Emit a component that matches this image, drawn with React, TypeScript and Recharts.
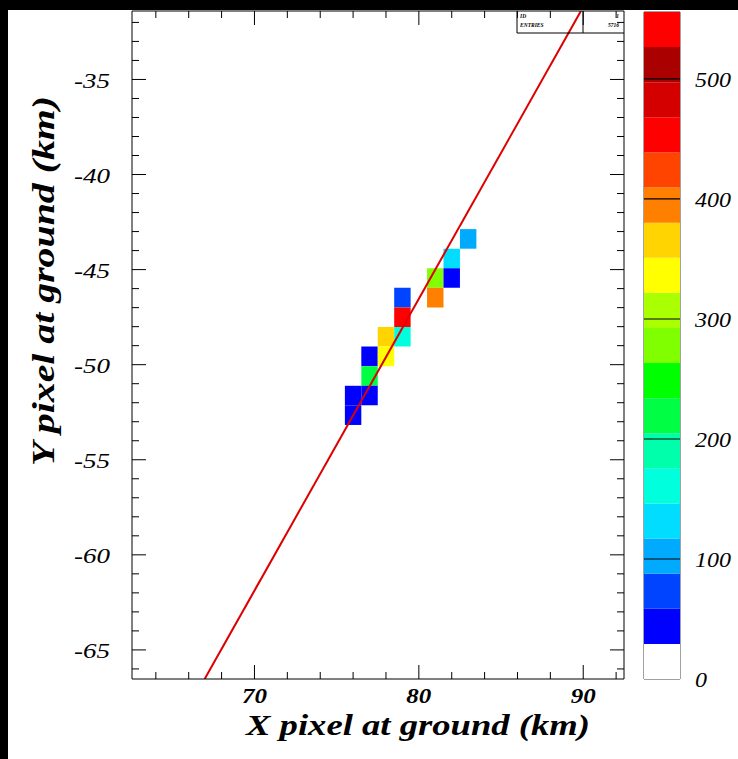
import React from 'react';
import { ComposedChart, BarChart, Bar, Line, XAxis, YAxis, ReferenceArea } from 'recharts';

if (typeof document !== 'undefined') {
  document.body.style.margin = '0';
  document.body.style.background = '#000';
}

// ---- data ----
const xDomain = [62.55, 92.48];
const yDomain = [-66.53, -31.4];
const xTicks = [64, 66, 68, 70, 72, 74, 76, 78, 80, 82, 84, 86, 88, 90, 92];
const xMajorTicks = [70, 80, 90];
const yTicks = [-66, -65, -64, -63, -62, -61, -60, -59, -58, -57, -56, -55, -54, -53, -52, -51, -50, -49, -48, -47, -46, -45, -44, -43, -42, -41, -40, -39, -38, -37, -36, -35, -34, -33, -32];
const yMajorTicks = [-65, -60, -55, -50, -45, -40, -35];

const binWidth = 1;
const binHeight = 1.03;
const cellX = [83, 82, 81, 82, 81, 79, 79, 78, 79, 77, 78, 77, 76, 77, 76];
const cellY = [-43.385, -44.415, -45.445, -45.445, -46.475, -46.475, -47.505, -48.535, -48.535, -49.565, -49.565, -50.595, -51.625, -51.625, -52.655];
const cellCount = [100, 130, 280, 45, 395, 75, 455, 365, 160, 45, 335, 220, 45, 45, 45];

const fitLine = [
  { x: 66.97, y: -66.53 },
  { x: 89.86, y: -31.4 },
];

const zMax = 555.8;
const zTicks = [0, 100, 200, 300, 400, 500];
const zColors = [
  '#ffffff', '#0000ff', '#0044ff', '#00aaff', '#00ddff', '#00ffdd', '#00ffaa', '#00ff44',
  '#00ff00', '#80ff00', '#aaff00', '#ffff00', '#ffd400', '#ff7f00', '#ff4400', '#ff0000',
  '#d40000', '#aa0000', '#ff0000',
];

const statsLabels = ['ID', 'ENTRIES'];
const statsValues = ['1', '5716'];

const xTitle = 'X pixel at ground (km)';
const yTitle = 'Y pixel at ground (km)';

// ---- helpers ----
const FONT = '"Liberation Serif", "Times New Roman", serif';
const nBands = zColors.length;
const bandStep = zMax / nBands;
const colorFor = (v: number) => zColors[Math.min(nBands - 1, Math.max(0, Math.floor(v / bandStep)))];
const cells = cellX.map((x, i) => ({ x, y: cellY[i], v: cellCount[i] }));
const bandRow: Record<string, any> = { name: 'z' };
zColors.forEach((_, i) => { bandRow[`b${i}`] = bandStep; });
const bandData = [bandRow];

const MAJOR = 14;
const MINOR = 7;

const BottomTick = (props: any) => {
  const { x, y, payload } = props;
  const major = xMajorTicks.includes(payload.value);
  return (
    <g>
      <line x1={x} y1={y} x2={x} y2={y - (major ? MAJOR : MINOR)} stroke="#000" strokeWidth={1} />
      {major && (
        <text x={x} y={y + 24} textAnchor="middle" fontFamily={FONT} fontStyle="italic" fontWeight="bold"
          fontSize={21} textLength={25} lengthAdjust="spacingAndGlyphs" fill="#000">
          {payload.value}
        </text>
      )}
    </g>
  );
};

const TopTick = (props: any) => {
  const { x, y, payload } = props;
  const major = xMajorTicks.includes(payload.value);
  return <line x1={x} y1={y} x2={x} y2={y + (major ? MAJOR : MINOR)} stroke="#000" strokeWidth={1} />;
};

const LeftTick = (props: any) => {
  const { x, y, payload } = props;
  const major = yMajorTicks.includes(payload.value);
  return (
    <g>
      <line x1={x} y1={y} x2={x + (major ? MAJOR : MINOR)} y2={y} stroke="#000" strokeWidth={1} />
      {major && (
        <text x={x - 22} y={y + 8.5} textAnchor="end" fontFamily={FONT} fontStyle="italic"
          fontSize={21} textLength={36} lengthAdjust="spacingAndGlyphs" fill="#000">
          {String(payload.value)}
        </text>
      )}
    </g>
  );
};

const RightTick = (props: any) => {
  const { x, y, payload } = props;
  const major = yMajorTicks.includes(payload.value);
  return <line x1={x} y1={y} x2={x - (major ? MAJOR : MINOR)} y2={y} stroke="#000" strokeWidth={1} />;
};

const ZTick = (props: any) => {
  const { x, y, payload } = props;
  const s = String(payload.value);
  return (
    <g>
      {payload.value > 0 && <line x1={x - 36} y1={y} x2={x} y2={y} stroke="#000" strokeWidth={1.2} />}
      <text x={x + 15} y={y + 8} textAnchor="start" fontFamily={FONT} fontStyle="italic"
        fontSize={21} textLength={s.length * 12} lengthAdjust="spacingAndGlyphs" fill="#000">
        {s}
      </text>
    </g>
  );
};

const XTitle = (props: any) => {
  const vb = props.viewBox || { x: 132, y: 679, width: 492, height: 1 };
  return (
    <text x={vb.x + vb.width - 34} y={vb.y + 56} textAnchor="end" fontFamily={FONT}
      fontStyle="italic" fontWeight="bold" fontSize={30} textLength={344} lengthAdjust="spacingAndGlyphs" fill="#000">
      {xTitle}
    </text>
  );
};

const YTitle = (props: any) => {
  const vb = props.viewBox || { x: 131, y: 11, width: 1, height: 668 };
  const tx = vb.x + vb.width - 78;
  const ty = vb.y + 85;
  return (
    <text x={tx} y={ty} transform={`rotate(-90 ${tx} ${ty})`} textAnchor="end" fontFamily={FONT}
      fontStyle="italic" fontWeight="bold" fontSize={31} textLength={370} lengthAdjust="spacingAndGlyphs" fill="#000">
      {yTitle}
    </text>
  );
};

export default function App() {
  const W = 738;
  const H = 759;
  return (
    <div style={{ position: 'relative', width: W, height: H, background: '#000', overflow: 'hidden' }}>
      <div style={{ position: 'absolute', left: 8, top: 10, width: W - 8, height: H - 10, background: '#fff' }} />

      <div style={{ position: 'absolute', left: 0, top: 0 }}>
        <ComposedChart width={W} height={H} data={fitLine} margin={{ top: 10, right: 113, bottom: 79, left: 131 }}>
          <XAxis xAxisId="b" dataKey="x" type="number" domain={xDomain} ticks={xTicks} interval={0} orientation="bottom"
            height={1} tickSize={0} tickMargin={0} tickLine={false} allowDataOverflow
            axisLine={{ stroke: '#000', strokeWidth: 1 }} tick={<BottomTick />} label={<XTitle />} />
          <XAxis xAxisId="t" dataKey="x" type="number" domain={xDomain} ticks={xTicks} interval={0} orientation="top"
            height={1} tickSize={0} tickMargin={0} tickLine={false} allowDataOverflow
            axisLine={{ stroke: '#000', strokeWidth: 1 }} tick={<TopTick />} />
          <YAxis yAxisId="l" type="number" domain={yDomain} ticks={yTicks} interval={0} orientation="left"
            width={1} tickSize={0} tickMargin={0} tickLine={false} allowDataOverflow
            axisLine={{ stroke: '#000', strokeWidth: 1 }} tick={<LeftTick />} label={<YTitle />} />
          <YAxis yAxisId="r" type="number" domain={yDomain} ticks={yTicks} interval={0} orientation="right"
            width={1} tickSize={0} tickMargin={0} tickLine={false} allowDataOverflow
            axisLine={{ stroke: '#000', strokeWidth: 1 }} tick={<RightTick />} />
          {cells.map((c, i) => (
            <ReferenceArea key={`c${i}`} xAxisId="b" yAxisId="l" ifOverflow="visible"
              x1={c.x - binWidth / 2} x2={c.x + binWidth / 2} y1={c.y - binHeight / 2} y2={c.y + binHeight / 2}
              fill={colorFor(c.v)} fillOpacity={1} stroke="none" />
          ))}
          <Line xAxisId="b" yAxisId="l" dataKey="y" type="linear" stroke="#dd0000" strokeWidth={2}
            dot={false} activeDot={false} isAnimationActive={false} />
        </ComposedChart>
      </div>

      <div style={{ position: 'absolute', left: 0, top: 0 }}>
        <BarChart width={W} height={H} data={bandData} barCategoryGap={0} barGap={0}
          margin={{ top: 12, right: 57, bottom: 80, left: 644 }}>
          <XAxis dataKey="name" type="category" hide />
          <YAxis type="number" domain={[0, zMax]} ticks={zTicks} interval={0} orientation="right"
            width={1} tickSize={0} tickMargin={0} tickLine={false} axisLine={false} tick={<ZTick />} allowDataOverflow />
          {zColors.map((c, i) => (
            <Bar key={`b${i}`} dataKey={`b${i}`} stackId="z" fill={c} isAnimationActive={false} />
          ))}
          <ReferenceArea ifOverflow="visible" y1={0} y2={zMax}
            fill="none" fillOpacity={0} stroke="#444" strokeWidth={1} />
        </BarChart>
      </div>

      <svg width={W} height={H} style={{ position: 'absolute', left: 0, top: 0, pointerEvents: 'none' }}>
        <line x1={517} y1={11} x2={517} y2={33} stroke="#000" strokeWidth={1} />
        <line x1={583} y1={11} x2={583} y2={33} stroke="#000" strokeWidth={1} />
        <line x1={517} y1={33} x2={624} y2={33} stroke="#000" strokeWidth={1} />
        {statsLabels.map((s, i) => (
          <text key={s} x={520} y={18 + i * 9} fontFamily={FONT} fontStyle="italic" fontWeight="bold" fontSize={5.5} fill="#000">{s}</text>
        ))}
        {statsValues.map((s, i) => (
          <text key={s} x={619} y={18 + i * 9} textAnchor="end" fontFamily={FONT} fontStyle="italic" fontWeight="bold" fontSize={5.5} fill="#000">{s}</text>
        ))}
      </svg>
    </div>
  );
}
